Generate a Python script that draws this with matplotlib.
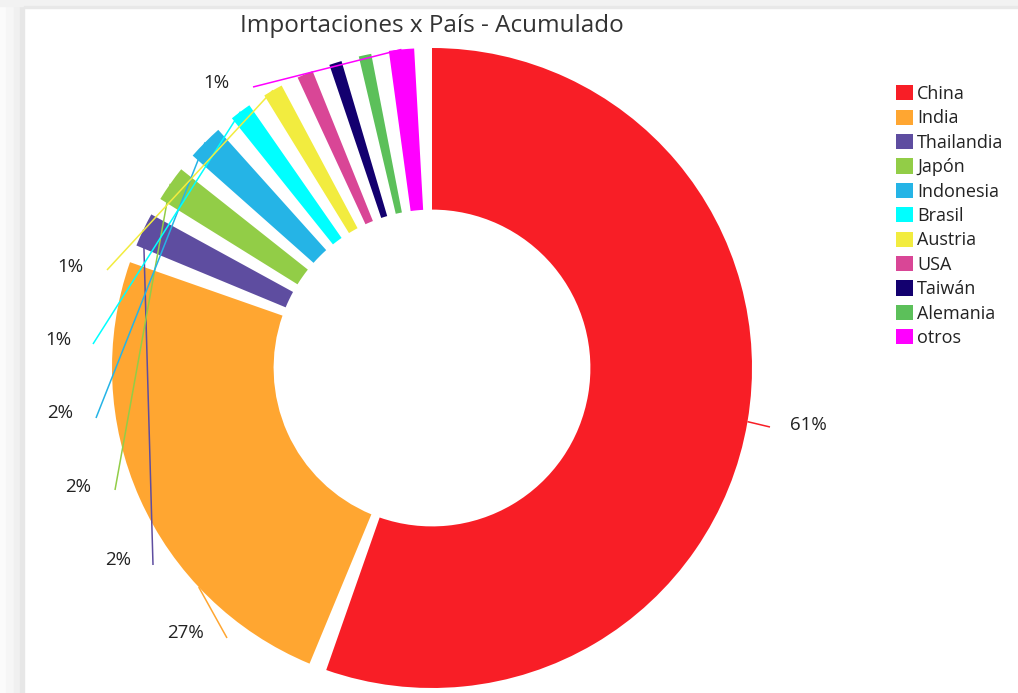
import matplotlib
matplotlib.use("Agg")
import matplotlib.pyplot as plt
import numpy as np
from matplotlib.patches import Rectangle

# ---------------- data ----------------
countries = ["China", "India", "Thailandia", "Japón", "Indonesia", "Brasil",
             "Austria", "USA", "Taiwán", "Alemania", "otros"]
shares = [61.3, 26.7, 1.9, 2.0, 2.0, 1.2, 1.1, 0.9, 0.7, 0.7, 1.4]
colors = ["#F81E26", "#FFA631", "#5E4DA0", "#92CD47", "#25B4E6", "#00FFFF",
          "#F2EC3F", "#D94696", "#13006F", "#5CC05A", "#FF00FF"]
title = "Importaciones x País - Acumulado"

# ---------------- layout ----------------
W, H = 1018, 693
CX, CY, R = 432, 368, 320          # donut centre / radius in pixels
GAP_DEG = 3.2                      # angular gap between slices
HOLE = 0.495

# label text position and leader-line start (pixels), anchor fraction in slice
label_layout = {
    "China":      (808, 425, 770, 427, 0.5),
    "India":      (186, 633, 227, 638, 0.28),
    "Thailandia": (118, 560, 153, 565, 0.5),
    "Japón":      (78, 487, 115, 490, 0.5),
    "Indonesia":  (60, 413, 96, 418, 0.5),
    "Brasil":     (58, 340, 93, 344, 0.5),
    "Austria":    (70, 267, 107, 270, 0.5),
    "otros":      (216, 83, 253, 87, 0.5),
}

plt.rcParams["font.family"] = ["Open Sans", "DejaVu Sans"]
TEXT = "#222222"

fig = plt.figure(figsize=(W / 100, H / 100), dpi=100)
fig.patch.set_facecolor("white")

# page chrome: grey strips top and left
for (x0, x1, c) in [(0, 6, "#fbfbfb"), (6, 14, "#f6f6f6"), (14, 20, "#f0f0f0"), (20, 24, "#e7e7e7")]:
    fig.patches.append(Rectangle((x0 / W, 0), (x1 - x0) / W, 1, transform=fig.transFigure,
                                 color=c, zorder=0))
fig.patches.append(Rectangle((0, (H - 6) / H), 1, 6 / H, transform=fig.transFigure,
                             color="#f2f2f2", zorder=0))
fig.patches.append(Rectangle((24 / W, (H - 8) / H), 1, 2 / H, transform=fig.transFigure,
                             color="#e8e8e8", zorder=0))

ax = fig.add_axes([(CX - R) / W, (H - CY - R) / H, 2 * R / W, 2 * R / H])

total = sum(shares)
gap_val = total * GAP_DEG / (360 - GAP_DEG * len(shares))
vals, cols = [], []
for v, c in zip(shares, colors):
    vals += [v, gap_val]
    cols += [c, "white"]

wedges, _ = ax.pie(vals, colors=cols, startangle=90, counterclock=False, radius=1,
                   wedgeprops=dict(width=1 - HOLE, linewidth=0))
data_wedges = wedges[0::2]
for w in wedges[1::2]:
    w.set_visible(False)

ax.set_xlim(-1, 1)
ax.set_ylim(-1, 1)
ax.set_aspect("equal")
ax.axis("off")


def px2data(px, py):
    return (px - CX) / R, (CY - py) / R


# percentage labels with leader lines
for name, v, c, w in zip(countries, shares, colors, data_wedges):
    if name not in label_layout:
        continue
    tx, ty, lx, ly, frac = label_layout[name]
    ang = np.deg2rad(w.theta2 - frac * (w.theta2 - w.theta1))
    ax0, ay0 = np.cos(ang), np.sin(ang)
    x1, y1 = px2data(lx, ly)
    ax.plot([ax0, x1], [ay0, y1], color=c, lw=1.1, clip_on=False, zorder=5,
            solid_capstyle="butt")
    pct = round(v / total * 100)
    dx, dy = px2data(tx, ty)
    ax.text(dx, dy, f"{pct}%", ha="center", va="center", fontsize=13.5, color=TEXT,
            clip_on=False)

# title
fig.text(432 / W, 1 - 26 / H, title, ha="center", va="center", fontsize=17.5, color="#333333")

# legend
fig.legend(data_wedges, countries, loc="upper left",
           bbox_to_anchor=(896 / W, 1 - 85 / H), frameon=False,
           fontsize=13, handlelength=0.92, handleheight=0.92, handletextpad=0.25,
           labelspacing=0.355, borderpad=0, borderaxespad=0, labelcolor=TEXT)

fig.savefig("out.png", dpi=100, facecolor="white")
